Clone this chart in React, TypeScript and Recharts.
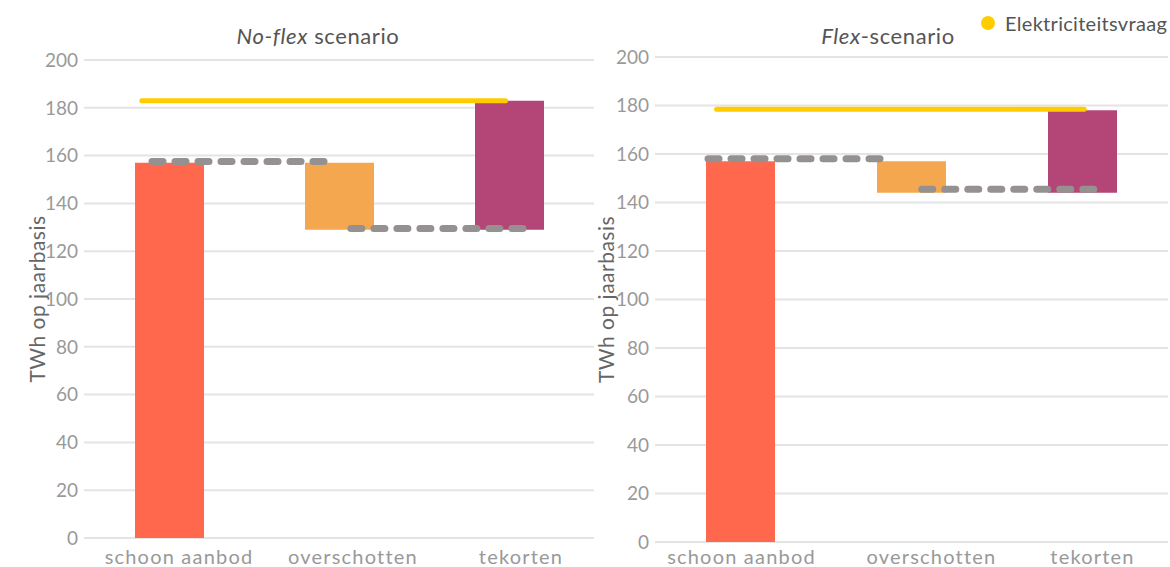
import React from 'react';
import {
  ComposedChart,
  Bar,
  Cell,
  XAxis,
  YAxis,
  CartesianGrid,
  ReferenceLine,
  Label,
} from 'recharts';

// categories and tick values
const categories = ['schoon aanbod', 'overschotten', 'tekorten'];
const yTicks = [0, 20, 40, 60, 80, 100, 120, 140, 160, 180, 200];
const barColors = ['#FF684D', '#F4A74E', '#B34677'];

// No-flex scenario: waterfall (start / end of each step)
const noFlexBase = [0, 129, 129];
const noFlexTop = [157, 157, 183];
const noFlexDemand = 183;
const noFlexDemandSpan = [-0.16, 1.98];
const noFlexConnectors = [
  { from: -0.1, to: 0.92, y: 157.5 },
  { from: 1.07, to: 2.1, y: 129.5 },
];

// Flex scenario
const flexBase = [0, 144, 144];
const flexTop = [157, 157, 178];
const flexDemand = 178.5;
const flexDemandSpan = [-0.14, 2.01];
const flexConnectors = [
  { from: -0.19, to: 0.83, y: 158 },
  { from: 1.06, to: 2.09, y: 145.5 },
];

const FONT = 'Lato, "Open Sans", sans-serif';

// the category labels sit a little right of the bars in the original
const CategoryTick = (props: any) => {
  const { x, y, payload, shifts } = props;
  const i = payload.value as number;
  return (
    <text
      x={x + (shifts[i] || 0)}
      y={y}
      dy="0.71em"
      textAnchor="middle"
      fill="#999999"
      fontSize={20}
      fontFamily={FONT}
      letterSpacing={1.2}
    >
      {categories[i]}
    </text>
  );
};

interface PanelProps {
  base: number[];
  top: number[];
  demand: number;
  demandSpan: number[];
  connectors: { from: number; to: number; y: number }[];
  width: number;
  marginTop: number;
  marginRight: number;
  yAxisWidth: number;
  xAxisHeight: number;
  xTickMargin: number;
  labelOffset: number;
  tickShifts: number[];
}

const Panel: React.FC<PanelProps> = ({
  base,
  top,
  demand,
  demandSpan,
  connectors,
  width,
  marginTop,
  marginRight,
  yAxisWidth,
  xAxisHeight,
  xTickMargin,
  labelOffset,
  tickShifts,
}) => {
  const data = categories.map((name, i) => ({
    x: i,
    name,
    base: base[i],
    delta: top[i] - base[i],
  }));

  return (
    <ComposedChart
      width={width}
      height={567}
      data={data}
      margin={{ top: marginTop, right: marginRight, bottom: 0, left: 0 }}
    >
      <CartesianGrid vertical={false} stroke="#e4e4e4" strokeWidth={2} />
      <XAxis
        type="number"
        dataKey="x"
        domain={[-0.5, 2.5]}
        ticks={[0, 1, 2]}
        axisLine={false}
        tickLine={false}
        tickSize={0}
        tickMargin={xTickMargin}
        height={xAxisHeight}
        tick={<CategoryTick shifts={tickShifts} />}
        allowDataOverflow
      />
      <YAxis
        domain={[0, 200]}
        ticks={yTicks}
        axisLine={false}
        tickLine={false}
        tickSize={0}
        tickMargin={6}
        width={yAxisWidth}
        tick={{ fill: '#999999', fontSize: 19, fontFamily: FONT }}
      >
        <Label
          value="TWh op jaarbasis"
          angle={-90}
          position="insideLeft"
          offset={labelOffset}
          style={{
            fill: '#666666',
            fontSize: 21,
            fontFamily: FONT,
            letterSpacing: 0.5,
            textAnchor: 'middle',
          }}
        />
      </YAxis>
      <Bar dataKey="base" stackId="w" fill="transparent" barSize={69} isAnimationActive={false} />
      <Bar dataKey="delta" stackId="w" barSize={69} isAnimationActive={false}>
        {data.map((d, i) => (
          <Cell key={d.name} fill={barColors[i]} />
        ))}
      </Bar>
      <ReferenceLine
        segment={[
          { x: demandSpan[0], y: demand },
          { x: demandSpan[1], y: demand },
        ]}
        stroke="#FFCC00"
        strokeWidth={5}
        strokeLinecap="round"
        ifOverflow="visible"
      />
      {connectors.map((c, i) => (
        <ReferenceLine
          key={i}
          segment={[
            { x: c.from, y: c.y },
            { x: c.to, y: c.y },
          ]}
          stroke="#959190"
          strokeWidth={7}
          strokeDasharray="11 12"
          strokeLinecap="round"
          ifOverflow="visible"
        />
      ))}
    </ComposedChart>
  );
};

const titleStyle: React.CSSProperties = {
  position: 'absolute',
  width: 240,
  top: 22,
  textAlign: 'center',
  fontSize: 22,
  letterSpacing: 0.6,
  color: '#555555',
  whiteSpace: 'nowrap',
};

const App: React.FC = () => {
  return (
    <div
      style={{
        position: 'absolute',
        left: 0,
        top: 0,
        width: 1170,
        height: 567,
        background: '#ffffff',
        fontFamily: FONT,
        overflow: 'hidden',
      }}
    >
      <div style={{ position: 'absolute', left: 0, top: 0 }}>
        <Panel
          base={noFlexBase}
          top={noFlexTop}
          demand={noFlexDemand}
          demandSpan={noFlexDemandSpan}
          connectors={noFlexConnectors}
          width={600}
          marginTop={60}
          marginRight={6}
          yAxisWidth={84}
          xAxisHeight={29}
          xTickMargin={12}
          labelOffset={38}
          tickShifts={[10, 14, 12]}
        />
      </div>
      <div style={{ position: 'absolute', left: 580, top: 0 }}>
        <Panel
          base={flexBase}
          top={flexTop}
          demand={flexDemand}
          demandSpan={flexDemandSpan}
          connectors={flexConnectors}
          width={590}
          marginTop={57}
          marginRight={2}
          yAxisWidth={75}
          xAxisHeight={25}
          xTickMargin={8}
          labelOffset={27}
          tickShifts={[1, 20, 10]}
        />
      </div>

      {/* panel titles */}
      <div style={{ ...titleStyle, left: 198 }}>
        <i>No-flex</i> scenario
      </div>
      <div style={{ ...titleStyle, left: 768 }}>
        <i>Flex</i>-scenario
      </div>

      {/* legend */}
      <div
        style={{
          position: 'absolute',
          left: 981,
          top: 11,
          display: 'flex',
          alignItems: 'center',
          fontSize: 20,
          letterSpacing: 0.3,
          color: '#555555',
          whiteSpace: 'nowrap',
        }}
      >
        <span
          style={{
            display: 'inline-block',
            width: 14,
            height: 14,
            borderRadius: 7,
            background: '#FFCC00',
            marginRight: 10,
          }}
        />
        Elektriciteitsvraag
      </div>
    </div>
  );
};

export default App;
